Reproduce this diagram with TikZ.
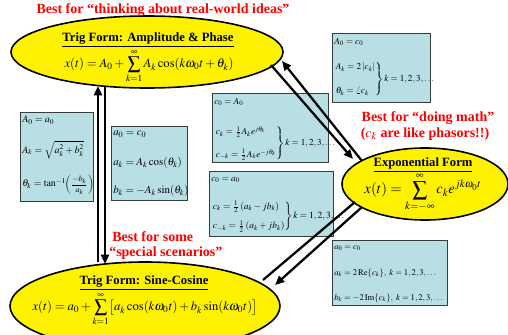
\documentclass[tikz,border=0pt]{standalone}
\usepackage{amsmath}
\usepackage{mathptmx}
\usepackage{fontspec}
\setmainfont{Liberation Serif}
\usetikzlibrary{shapes.geometric,arrows.meta}
\definecolor{boxblue}{RGB}{184,223,228}
\definecolor{boxline}{RGB}{55,60,60}
\newcommand\pxu{0.75pt}
\tikzset{
  ell/.style={ellipse, draw=black, fill=yellow, line width=1.2pt, inner sep=0pt},
  relbox/.style={draw=boxline, fill=boxblue, line width=0.9pt, anchor=north west, inner sep=0pt},
  bl/.style={anchor=west, inner sep=0pt},
  fA/.style={font=\fontsize{7.5}{9}\selectfont},
  fB/.style={font=\fontsize{8.2}{9.5}\selectfont},
  fC/.style={font=\fontsize{6.9}{8}\selectfont},
  fD/.style={font=\fontsize{7.1}{8}\selectfont},
  fF/.style={font=\fontsize{6.5}{7.5}\selectfont},
  redlbl/.style={text=red, font=\fontsize{10.5}{12}\selectfont\bfseries, inner sep=0pt},
  ttl/.style={font=\fontsize{9.5}{11}\selectfont\bfseries, inner sep=0pt},
  frm/.style={font=\fontsize{9.5}{11}\selectfont, inner sep=0pt},
  conn/.style={line width=1.7pt, draw=black},
  tip/.style={-{Triangle[length=7pt,width=6pt]}}
}
\begin{document}
\begin{tikzpicture}[x=0.75pt,y=-0.75pt]
\useasboundingbox (0,0) rectangle (508,335);
\clip (0,0) rectangle (508,335);
% ellipses
\node[ell, minimum width=272*\pxu, minimum height=72*\pxu] (top) at (147,52) {};
\node[ell, minimum width=166*\pxu, minimum height=72*\pxu] (exp) at (425,184) {};
\node[ell, minimum width=270*\pxu, minimum height=88*\pxu] (bot) at (145,306) {};
% ellipse texts
\node[ttl] (topT) at (148,40) {\underline{Trig Form: Amplitude \& Phase}};
\node[frm] (topF) at (149,66) {$x(t)=A_0+\displaystyle\sum_{k=1}^{\infty}A_k\cos(k\omega_0 t+\theta_k)$};
\node[ttl] (expT) at (423,165) {\underline{Exponential Form}};
\node[frm, font=\fontsize{11}{12}\selectfont] (expF) at (423,192) {$x(t)=\displaystyle\sum_{k=-\infty}^{\infty}c_k e^{jk\omega_0 t}$};
\node[ttl] (botT) at (144,283) {\underline{Trig Form: Sine-Cosine}};
\node[frm] (botF) at (145,309) {$x(t)=a_0+\displaystyle\sum_{k=1}^{\infty}\bigl[a_k\cos(k\omega_0 t)+b_k\sin(k\omega_0 t)\bigr]$};
% red labels
\node[redlbl] (r1) at (163,10) {Best for “thinking about real-world ideas”};
\node[redlbl] (r2) at (428,118) {Best for “doing math”};
\node[redlbl] (r3) at (425,134) {($c_k$ are like phasors!!)};
\node[redlbl, anchor=west] (r4) at (112,237) {Best for some};
\node[redlbl, anchor=west] (r5) at (109,253) {“special scenarios”};
% box A
\node[relbox, minimum width=73*\pxu, minimum height=89*\pxu] (bA) at (20,112) {};
\node[bl, fA] (bA1) at (22,120) {$A_0=a_0$};
\node[bl, fA] (bA2) at (22,150) {$A_k=\sqrt{a_k^2+b_k^2}$};
\node[bl, fA] (bA3) at (22,185) {$\theta_k=\tan^{-1}\!$\mbox{\fontsize{6}{7}\selectfont$\left(\dfrac{-b_k}{a_k}\right)$}};
% box B
\node[relbox, minimum width=76*\pxu, minimum height=74*\pxu] (bB) at (111,126) {};
\node[bl, fB] (bB1) at (113,134) {$a_0=c_0$};
\node[bl, fB] (bB2) at (113,163) {$a_k=A_k\cos(\theta_k)$};
\node[bl, fB] (bB3) at (113,191) {$b_k=-A_k\sin(\theta_k)$};
% box C
\node[relbox, minimum width=116*\pxu, minimum height=69*\pxu] (bC) at (212,93) {};
\node[bl, fC] (bC1) at (214,102) {$c_0=A_0$};
\node[bl, fC] (bC2) at (214,143.5) {$\left.\begin{array}{@{}l@{}}c_k=\frac12 A_k e^{j\theta_k}\\[8.5pt] c_{-k}=\frac12 A_k e^{-j\theta_k}\end{array}\right\}k=1,2,3,\ldots$};
% box D
\node[relbox, minimum width=124*\pxu, minimum height=65*\pxu] (bD) at (209,171) {};
\node[bl, fD] (bD1) at (211,180) {$c_0=a_0$};
\node[bl, fD] (bD2) at (211,216.5) {$\left.\begin{array}{@{}l@{}}c_k=\frac12\left(a_k-jb_k\right)\\[6pt] c_{-k}=\frac12\left(a_k+jb_k\right)\end{array}\right\}k=1,2,3,\ldots$};
% box E
\node[relbox, minimum width=98*\pxu, minimum height=69*\pxu] (bE) at (332,33) {};
\node[bl, fC] (bE1) at (334,42) {$A_0=c_0$};
\node[bl, fC] (bE2) at (334,79.5) {$\left.\begin{array}{@{}l@{}}A_k=2\left|c_k\right|\\[10pt] \theta_k=\angle c_k\end{array}\right\}k=1,2,3,\ldots$};
% box F
\node[relbox, minimum width=115*\pxu, minimum height=65*\pxu] (bF) at (332,240) {};
\node[bl, fF] (bF1) at (334,248) {$a_0=c_0$};
\node[bl, fF] (bF2) at (334,273) {$a_k=2\,\mathrm{Re}\{c_k\},\ k=1,2,3,\ldots$};
\node[bl, fF] (bF3) at (334,298) {$b_k=-2\,\mathrm{Im}\{c_k\},\ k=1,2,3,\ldots$};
% connector end points
\coordinate (v1s) at (98,262);
\coordinate (v1e) at (98,86);
\coordinate (v2s) at (105,86);
\coordinate (v2e) at (105,264);
\coordinate (d1s) at (271,65);
\coordinate (d1e) at (353,159);
\coordinate (d2s) at (362,161);
\coordinate (d2e) at (282,61);
\coordinate (e1s) at (355,202);
\coordinate (e1e) at (263,280);
\coordinate (e2s) at (362,207);
\coordinate (e2e) at (275,285);
% connectors
\draw[conn, tip] (v1s) -- (v1e);
\draw[conn, tip] (v2s) -- (v2e);
\draw[conn, tip] (d1s) -- (d1e);
\draw[conn, tip] (d2s) -- (d2e);
\draw[conn] (e1s) -- (e1e);
\draw[conn, tip] (e2s) -- (e2e);
\end{tikzpicture}
\end{document}
